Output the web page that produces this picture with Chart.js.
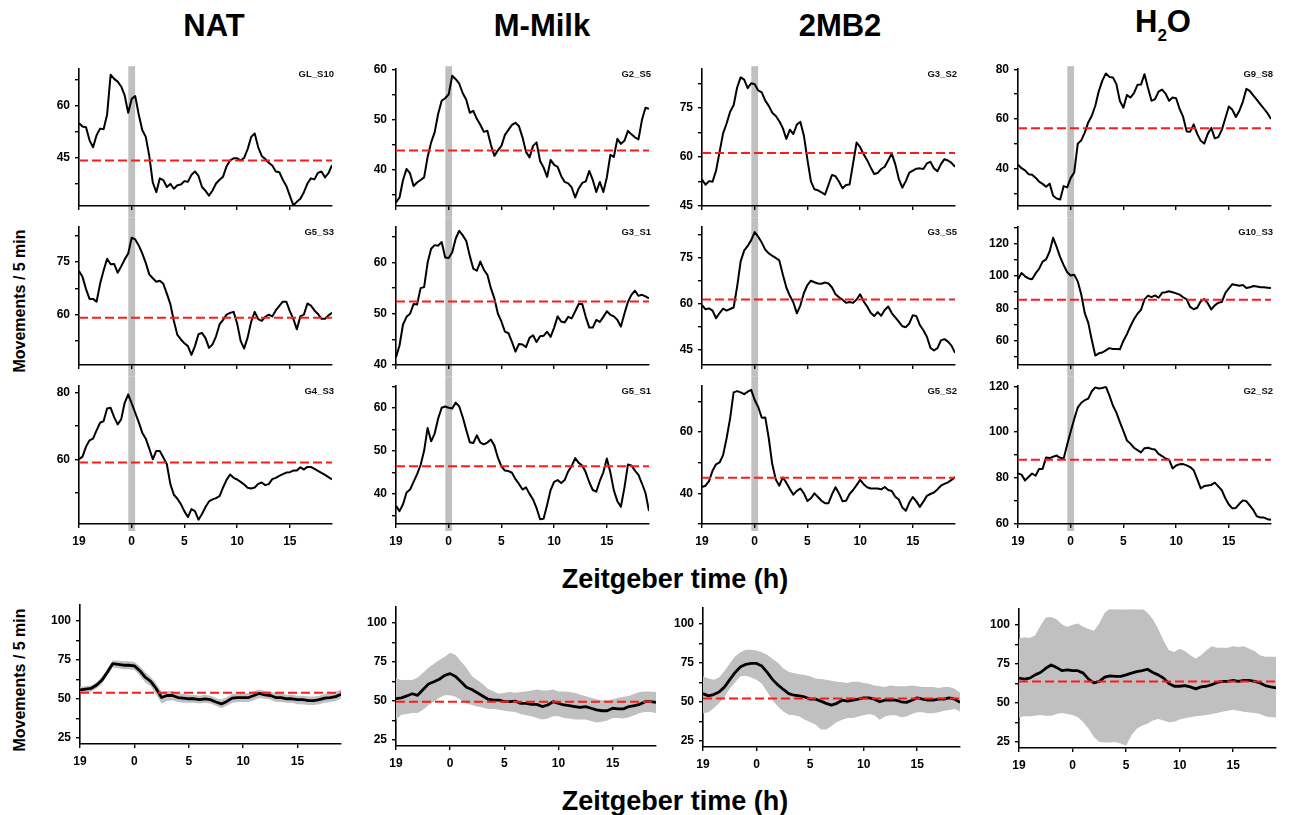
<!DOCTYPE html>
<html>
<head>
<meta charset="utf-8">
<script src="https://cdn.jsdelivr.net/npm/chart.js@4.4.1/dist/chart.umd.min.js"></script>
<style>
  body { margin: 0; background: #fff; width: 1305px; height: 815px; position: relative; overflow: hidden;
         font-family: "Liberation Sans", Arial, sans-serif; }
  canvas { position: absolute; }
  .txt { position: absolute; font-weight: bold; color: #000; white-space: nowrap; line-height: 1;
         transform: translate(-50%, -50%); }
  .title { font-size: 31px; }
  .xlab { font-size: 27px; }
  .ylab { font-size: 16px; transform: translate(-50%, -50%) rotate(-90deg); }
</style>
</head>
<body>
<div class="txt title" style="left:214px; top:25px">NAT</div>
<div class="txt title" style="left:542px; top:25px">M-Milk</div>
<div class="txt title" style="left:840px; top:25px">2MB2</div>
<div class="txt title" style="left:1163px; top:25px">H<span style="font-size:17px; vertical-align:-9px">2</span>O</div>
<div class="txt xlab" style="left:675px; top:579px">Zeitgeber time (h)</div>
<div class="txt xlab" style="left:675px; top:801px">Zeitgeber time (h)</div>
<div class="txt ylab" style="left:20px; top:301px">Movements / 5 min</div>
<div class="txt ylab" style="left:20px; top:680px">Movements / 5 min</div>

<script>
// sample times (h, relative to lights-off at ZT 0); 19 on the left is the previous day
const ztLine = Array.from({ length: 73 }, (_, i) => -5 + i / 3);
const ztMean = Array.from({ length: 49 }, (_, i) => -5 + i / 2);
const xTickValues = [-5, 0, 5, 10, 15];
const xTickLabels = ['19', '0', '5', '10', '15'];

// individual animals, movements / 5 min
const natGL_S10 = [55,54,53.8,50,48,51.5,53.4,53.2,57.5,69,67.8,67,65.6,63,58,62,62.8,57.5,53,51,45.5,37.8,35,39,38.5,36.5,37.4,36,37,37.2,38.2,38,40,41,39.7,36.5,35.4,34,35.5,37.5,38.6,39.5,42.5,44.2,44.8,44.8,44.2,44.9,47.5,51,52,48,45.5,44.6,43.5,42.7,41,40.8,38.6,36.8,34,31.2,32.2,33.1,35,37.5,39,38.7,40.6,41,39.3,40.5,42.8];
const natG5_S3 = [72.5,70.8,67.3,64.5,64.5,63.7,68.8,72.6,76,74.4,74.5,72,73.8,75.8,77.5,82,81.5,79.8,77.5,74.8,71.5,70.4,69.4,69.7,68.8,66,63,58.2,54.2,52.9,51.8,51,48.5,51,54.4,54.8,53.3,50.5,51.5,53.8,57.2,58.5,60,60.5,60.8,57.5,52.5,50.3,53.5,58,60.8,58.7,58.2,59.4,60,59.5,61.2,62.5,63.7,63.7,61,58.8,55.8,59.5,60,63.2,62.6,61.2,60.2,58.8,58.8,59.8,60.5];
const natG4_S3 = [60,60.8,63.8,65.7,66.2,68.7,71,71.5,75.3,75.5,72.7,70.5,72,77,79.5,76.8,74,71.2,68,66.2,63.2,60,62.5,62.5,60.5,58.5,52.5,49.3,48.1,46.5,44.3,42.6,45,44.4,41.8,43.5,45.6,47.3,47.9,48.3,48.9,51.5,53.8,55.4,54.4,53.9,53.2,52.4,51.4,51.2,51.5,52.6,53,52.2,52.5,54,54.4,55,55.5,56,56.1,56.6,56.6,57.6,56.9,57.7,57.7,57.1,56.5,55.9,55.3,54.6,53.9];
const milkG2_S5 = [33.5,34.5,38,40.2,39.3,36.8,37.5,38,38.5,42.6,45.5,47.5,51.2,53.8,54.3,55.1,58.8,58.1,57.2,55.3,54,51.4,51.8,50.2,49,47.6,47.8,45,42.8,43.9,44.8,47,48,49,49.4,48.7,46.5,43.6,42.5,44.8,45.5,41.8,40.5,38.6,42,41,40.6,38.8,37.6,37.3,36.5,34.5,36.3,37.4,37.7,39.8,38,35.6,37.6,35.6,38.5,43,42.6,46.2,45.2,45.8,47.8,47.1,46.5,46.1,50,52.4,52.2];
const milkG3_S1 = [41.5,43.8,47.9,49.4,50,51.9,51.8,55,55.2,60,62.7,63.4,63.3,64,61,60.9,62,64.7,66.2,65.3,64.2,61.3,58.8,58.4,60.2,58.6,57.6,55,53,50,48.5,46.5,46.2,44.5,42.6,44.1,44,43.5,45.3,45.8,44.5,45.6,45.7,46.5,45.5,47.3,49.5,48.5,48.3,49.4,49.1,50.5,51.9,51.9,49.4,47.3,47.3,48.8,48.4,49.4,50.5,49.8,49.5,48.8,47.5,50,52.3,53.7,54.5,53.5,53.7,53.4,53];
const milkG5_S1 = [37.2,36,37.6,40.3,41,42.8,44.6,46.7,50,55.3,52.2,54,57.5,60,60.3,60,59.8,61.2,60.3,57.8,54.8,52,51.8,53.6,51.9,51.5,51.9,52.6,51.2,48.4,46.4,45.4,45.3,44.9,43.4,42.3,41,41.5,40,38.7,36.7,34.1,34.2,37.4,40.9,42.8,43.2,42.5,43.2,45.2,46.5,48.3,47.2,46.6,45,42.7,40.9,40.5,43,45,48.2,45,40.8,38.3,37,41.4,46.8,46.6,45.4,44.4,42.4,40.2,36];
const mbG3_S2 = [53.1,51.5,52.6,52.4,55.8,61.5,67.2,70.2,73.8,75.8,81.2,84.3,83.6,81,82.5,82.2,80.3,79.7,77.2,75.6,73.5,72.5,70.9,68.8,65.5,68.3,67,69.9,70.7,66.5,59.2,52.5,50.1,49.8,49.2,48.5,51.5,54.5,54.1,52.4,50.4,51.4,51.6,58,64.4,63,60.8,59,56.8,54.8,55.1,56.3,57,59,61,57.8,53.3,50.6,52.6,55.2,55.8,56.4,56.5,56.3,58,58.5,56.5,55.6,57.8,59.3,58.9,58.2,57];
const mbG3_S5 = [59.5,58.1,58.4,57.7,55.2,56.9,58.3,57.7,58.2,58.7,65.5,73.7,77.2,78.7,80.6,83.2,81.7,79.8,77.5,76.3,75.5,74.8,74,69.4,65.2,62.5,60.3,56.8,59.4,63.4,66,67.4,66.9,66.5,66.4,66.8,66.5,65.2,63,62,61.2,60.2,60.5,60.2,61.3,63,60.7,59,57,55.9,57.2,56,57.9,59,56.9,55.5,54.1,52.6,52.3,53.5,56.2,55.9,53,51.3,49.2,45.6,44.7,45.5,48,48.4,47.6,46.3,44];
const mbG5_S2 = [42.1,42.5,44,47.4,49.5,50.1,52.5,58,64.5,73,73.4,73,72.4,73.2,73.8,70.5,68.2,64.7,64.8,58,49.5,44.5,42.5,45.2,43.5,41.4,39.6,40.8,41.6,40,37.5,38.4,40,38.8,37.6,36.8,36.8,39.7,42,40,37.4,37.6,39.8,41.1,42.7,44.4,43,42,41.6,41.6,41.6,41.3,42.1,41.1,40.8,38.9,38,35.4,34.3,37,38.8,37.4,35.6,37.3,39.2,39.8,40.3,41.3,42.5,43.1,43.6,44.4,45.3];
const h2oG9_S8 = [41.6,40.2,39.3,37.8,37.6,36.4,34.8,33.9,32.7,34,29.1,28,27.6,33,32.5,36.3,38.5,50,51.4,54.5,58.6,61.3,65.3,71.2,75.4,78.3,76.9,76.7,74,67.2,64.5,69.6,68.6,70.4,73.7,73.8,78,72.4,67.3,68,71,71.8,70.2,67.3,68.6,68.3,64,60.8,55,54.9,57.8,54,51.2,50.1,54,56.4,52.2,52.7,55.6,60.3,65,63.7,60.8,63.3,67,72.1,71.2,69.4,67.7,65.9,64.1,62.3,60];
const h2oG10_S3 = [97.9,101.7,99.7,98.4,97.9,101.5,104.3,108.8,110.2,115,123.5,117.8,111.5,106.6,102.2,100.2,100.7,96.6,88.5,77,71,60.4,50.8,52.2,52.7,54,55.4,54.9,54.8,54.7,60,64,68.9,73.2,76.6,79,85.5,87.8,86.9,87.9,86.5,89.5,89.9,90.5,89.9,89.2,88.4,86.8,85.5,80.8,79.4,80.3,84.3,85.7,83.1,79.3,81.8,83.4,83.9,89.4,92.3,94.8,94.4,93.9,94.4,92.5,92.9,93.7,93.4,93,92.9,92.7,92.5];
const h2oG2_S2 = [82,81.5,79,80.5,82,81,84,84,89,88.7,89.3,89.8,88.8,88.5,94.6,100.3,105.7,110.7,112.8,113.9,114.6,117.8,119.5,119,119.2,119.8,116,111.6,108.5,104.4,100.4,96.4,95,93.2,92.2,91.2,93,93.2,92.7,92.4,90.5,89.6,88.5,88,84.2,85.5,86,86.1,85.5,84.8,83.4,79.5,75.5,76.5,76.8,77,78,76.4,74.7,71.2,68.5,66.8,67,68.8,70.3,69.9,68,66,63.3,62.8,62.8,62.1,61.8];

// group means with spread band
const natMean  = [55.6,56.2,56.6,58.7,61.8,66.9,72.5,72.1,71.5,71.5,71.1,68,63.8,61.2,56.6,50.8,52.1,52.1,50.8,50.4,50,50,49.4,50,49.4,47.9,46.7,48.3,50.4,50.8,50.8,50.8,52.1,53.5,52.5,52.1,50.8,50.8,50,50,49.4,49.4,48.8,48.8,49.4,50.4,50.8,51.4,52.9];
const natUpper = [57.5,58,58.5,60.5,64,69,74.5,74.5,74,74,73.5,71,67,64,60,54.5,55,55,53.5,53,52.5,52.5,52,52.5,52,50.5,49.5,51,53,53.5,53.5,53.5,55,56,55,54.5,53.5,53.5,52.5,52.5,52,52,51.5,51.5,52,53,53.5,54.5,56];
const natLower = [53.5,54,54.5,56.5,59.5,64.5,70,69.5,69,69,68.5,65,60.5,58,52.5,47,48.5,49,48,47.5,47.5,47.5,47,47.5,47,45.5,44,45.5,47.5,48,48,48,49,50.5,50,49.5,48,48,47.5,47.5,46.5,46.5,46,46,46.5,47.5,48,48.5,50];
const milkMean  = [51.4,51.9,53.1,54.5,53.5,57.2,60.7,62.2,63.8,66.3,67.4,65.5,62.2,58.7,57.2,55.2,53.1,51,50.4,50.4,49.4,49.4,49.8,48.3,48.3,47.7,47.7,46.3,47.3,49.4,48.3,47.3,46.9,46.3,45.7,46.3,45.2,44.2,43.6,43.6,45.2,44.8,44.8,46.3,46.9,47.7,49.4,49.4,49];
const milkUpper = [64.3,63.4,63.4,63.4,64.9,68,71.1,73.8,76.2,78.3,80.8,79.3,75.2,71.1,65.9,63.4,60.7,57.6,56,54.5,55.2,55.6,55.2,55.6,56,56.6,57.2,56.6,56.6,57.2,56,56,55.6,55.2,53.9,53.1,51.9,51,50.4,50.4,51,51.9,52.5,53.1,54.5,55.6,56,56,55.6];
const milkLower = [38,41.1,41.5,42.1,42.1,44.2,47.3,49.4,51.9,53.5,53.5,52.5,50.4,48.3,47.3,46.3,45.7,44.8,44.8,44.2,43.6,43.2,42.8,41.5,40.7,40.1,39,38,38.6,40.1,40.1,39,38.6,38,38,38,37,36,36.6,37.4,39,39,38.6,39.5,40.7,42.1,42.8,42.8,42.1];
const mbMean  = [55.2,53.8,54.6,56.3,59.4,64.2,68.8,72.5,74,74.6,74.6,72.9,68.8,64.2,60.8,57.9,55.2,54.2,53.8,53.1,51.7,51.7,50.4,49,47.9,49,51,50.4,51,51.7,52.5,52.5,51.7,50,51,51,51,50,49.6,51,52.5,51.7,51,51,51.7,51.7,52.5,51.7,49.6];
const mbUpper = [66.3,65,64.2,65.6,69.8,74.6,79.2,81.7,83.3,83.3,82.9,81.7,80.2,77.5,75,71.3,69.2,68.3,67.7,67.1,66.3,65,64.6,64.2,63.5,62.9,62.5,62.1,62.9,62.9,62.1,61.5,60.4,60,59.4,60.4,60,60,60,60.4,60,59.4,59.4,59.4,58.8,59.4,59.4,58.3,55.8];
const mbLower = [42.7,43.3,45.8,49,53.1,58.3,62.5,66.3,66.7,65.6,64.2,61.5,56.3,51,46.9,43.8,41.7,41.3,40.6,38.5,37.1,35.4,32.3,32.3,34.4,37.1,38.5,39.6,39.6,40.6,41.3,42.1,41.3,38.5,40.6,41.3,41.3,40,40.6,42.1,43.3,43.3,42.7,42.7,43.3,44.2,44.8,45.4,43.8];
const h2oMean  = [65.8,65.2,65.8,67.9,69.4,72.1,74.2,72.7,70.6,71.1,70.6,70.6,69,65.2,62.7,63.7,66.5,67.3,66.9,66.9,67.9,69,70,70.6,71.5,69.4,67.9,65.8,62.3,60.6,60.6,61,60.2,58.9,60.2,60.6,61.6,63.1,63.7,63.7,64.4,63.7,64.4,64.4,63.7,62.7,61,60.2,59.5];
const h2oUpper = [91,92,91.6,93.1,99.4,104.6,105,103.6,100.4,98.7,100,100.8,98.7,97.3,96.2,100.8,107.8,110.5,110.5,109.9,110.5,110.9,110.5,110.5,107.8,103.6,97.3,89.9,83.6,82.6,84.7,83.2,80.5,78.4,80.5,83.6,86.2,85.3,85.3,85.3,86.2,85.7,86.2,84.7,83.2,80.5,79.5,79.5,79.5];
const h2oLower = [40.7,41.3,41.3,41.7,42.1,41.7,41.7,42.8,43.4,42.8,42.1,40.7,37.5,33.3,28.1,24.9,24.5,24.5,24.9,23.9,22.4,29.1,33.3,35.4,36.5,38.6,39.6,38.6,37.5,37.9,39.2,40,40.7,41.3,41.7,42.1,42.8,43.4,44.2,44.9,45.5,44.9,44.2,43.8,43.4,42.8,41.3,40.7,40.7];

// overall mean level (red dashed) per panel
const natLevels  = [44.2, 59.1, 59, 53.9];
const milkLevels = [43.9, 52.4, 46.4, 49.4];
const mbLevels   = [61.2, 61.3, 45.1, 52.1];
const h2oLevels  = [56.3, 85.3, 88, 63.7];

const animalIds = [
  ['GL_S10', 'G5_S3', 'G4_S3'],
  ['G2_S5', 'G3_S1', 'G5_S1'],
  ['G3_S2', 'G3_S5', 'G5_S2'],
  ['G9_S8', 'G10_S3', 'G2_S2']
];
const traces = [
  [natGL_S10, natG5_S3, natG4_S3],
  [milkG2_S5, milkG3_S1, milkG5_S1],
  [mbG3_S2, mbG3_S5, mbG5_S2],
  [h2oG9_S8, h2oG10_S3, h2oG2_S2]
];
const means = [
  { mean: natMean, upper: natUpper, lower: natLower },
  { mean: milkMean, upper: milkUpper, lower: milkLower },
  { mean: mbMean, upper: mbUpper, lower: mbLower },
  { mean: h2oMean, upper: h2oUpper, lower: h2oLower }
];
const levels = [natLevels, milkLevels, mbLevels, h2oLevels];

// y axes: range, tick marks, labelled ticks
const yAxes = [
  [ { min: 31, max: 70.6, ticks: [37.5, 45, 52.5, 60, 67.5], labels: [45, 60] },
    { min: 45.6, max: 85, ticks: [52.5, 60, 67.5, 75, 82.5], labels: [60, 75] },
    { min: 40.5, max: 82, ticks: [50, 60, 70, 80], labels: [60, 80] } ],
  [ { min: 32.8, max: 60.1, ticks: [35, 40, 45, 50, 55, 60], labels: [40, 50, 60] },
    { min: 40, max: 66.9, ticks: [40, 45, 50, 55, 60, 65], labels: [40, 50, 60] },
    { min: 33, max: 65, ticks: [35, 40, 45, 50, 55, 60, 65], labels: [40, 50, 60] } ],
  [ { min: 45, max: 86.8, ticks: [45, 52.5, 60, 67.5, 75, 82.5], labels: [45, 60, 75] },
    { min: 40, max: 84.8, ticks: [45, 52.5, 60, 67.5, 75, 82.5], labels: [45, 60, 75] },
    { min: 30, max: 75, ticks: [30, 40, 50, 60, 70], labels: [40, 60] } ],
  [ { min: 25, max: 80, ticks: [30, 40, 50, 60, 70, 80], labels: [40, 60, 80] },
    { min: 45, max: 130, ticks: [50, 60, 70, 80, 90, 100, 110, 120, 130], labels: [60, 80, 100, 120] },
    { min: 60, max: 120, ticks: [60, 70, 80, 90, 100, 110, 120], labels: [60, 80, 100, 120] } ]
];
const meanAxis = { min: 21, max: 110, ticks: [25, 37.5, 50, 62.5, 75, 87.5, 100], labels: [25, 50, 75, 100] };

// page geometry (plot areas)
const rowBox = [ { T: 65, B: 205.7 }, { T: 223.3, B: 365 }, { T: 381.7, B: 523.5 } ];
const colBox = [ { L: 79.3, R: 332.5 }, { L: 395.8, R: 649 }, { L: 702.3, R: 955.5 }, { L: 1018, R: 1271.2 } ];
const meanBox = [ { L: 80, R: 340.6, T: 600.5 }, { L: 396, R: 656, T: 602.5 },
                  { L: 702.6, R: 960, T: 604 }, { L: 1018.8, R: 1275.8, T: 604.5 } ];
const MEAN_H = 143;
const YW = 40, XH = 22, PT = 8, PR = 10;

const FONT = '"Liberation Sans", Arial, sans-serif';
const RED = '#ff1a1a';
const GRAY = '#c0c0c0';

const panelDeco = {
  id: 'panelDeco',
  beforeDraw(chart, args, opts) {
    if (!opts.bar) return;
    const { ctx, chartArea: a, scales: { x } } = chart;
    const cx = x.getPixelForValue(0);
    const top = opts.bar === 'first' ? a.top - 3 : a.top - 10;
    const bottom = opts.bar === 'last' ? a.bottom + 7 : a.bottom + 11;
    ctx.save();
    ctx.fillStyle = GRAY;
    ctx.fillRect(cx - 3.4, top, 6.8, bottom - top);
    ctx.restore();
  },
  afterDraw(chart, args, opts) {
    if (!opts.label) return;
    const { ctx, chartArea: a } = chart;
    ctx.save();
    ctx.font = 'bold 9.5px ' + FONT;
    ctx.fillStyle = '#111';
    ctx.textAlign = 'right';
    ctx.textBaseline = 'middle';
    ctx.fillText(opts.label, a.right + 2, a.top + 5);
    ctx.restore();
  }
};

function pts(xs, ys) {
  return ys.map((v, i) => ({ x: xs[i], y: v }));
}

function makePanel(box, axis, datasets, showX, deco) {
  const cv = document.createElement('canvas');
  const w = Math.round(box.R - box.L) + YW + PR;
  const h = Math.round(box.B - box.T) + PT + XH;
  cv.width = w; cv.height = h;
  cv.style.left = Math.round(box.L - YW) + 'px';
  cv.style.top = Math.round(box.T - PT) + 'px';
  cv.style.width = w + 'px'; cv.style.height = h + 'px';
  document.body.appendChild(cv);

  const tickFont = { family: FONT, size: 12, weight: 'bold' };
  new Chart(cv, {
    type: 'line',
    data: { datasets },
    options: {
      responsive: false,
      animation: false,
      events: [],
      layout: { padding: { top: PT, right: PR, left: 0, bottom: 0 } },
      elements: { point: { radius: 0 }, line: { tension: 0 } },
      plugins: { legend: { display: false }, tooltip: { enabled: false }, panelDeco: deco },
      scales: {
        x: {
          type: 'linear', min: -5, max: 19,
          afterFit: s => { s.height = XH; },
          afterBuildTicks: s => { s.ticks = xTickValues.map(v => ({ value: v })); },
          ticks: {
            display: showX, autoSkip: false, maxRotation: 0, padding: 6, color: '#000', font: tickFont,
            callback: v => xTickLabels[xTickValues.indexOf(v)]
          },
          grid: { drawOnChartArea: false, tickLength: 4, color: '#000', lineWidth: 1.4 },
          border: { color: '#000', width: 1.6 }
        },
        y: {
          min: axis.min, max: axis.max,
          afterFit: s => { s.width = YW; },
          afterBuildTicks: s => { s.ticks = axis.ticks.map(v => ({ value: v })); },
          ticks: {
            autoSkip: false, padding: 5, color: '#000', font: tickFont,
            callback: v => axis.labels.includes(v) ? String(v) : ''
          },
          grid: { drawOnChartArea: false, tickLength: 4, color: '#000', lineWidth: 1.4 },
          border: { color: '#000', width: 1.6 }
        }
      }
    },
    plugins: [panelDeco]
  });
}

function levelLine(v, width) {
  return {
    data: [{ x: -5, y: v }, { x: 19, y: v }],
    borderColor: RED, borderWidth: width, borderDash: [9, 4], fill: false, order: 0
  };
}

for (let c = 0; c < 4; c++) {
  for (let r = 0; r < 3; r++) {
    const box = { L: colBox[c].L, R: colBox[c].R, T: rowBox[r].T, B: rowBox[r].B };
    const ds = [
      levelLine(levels[c][r], 2),
      { data: pts(ztLine, traces[c][r]), borderColor: '#000', borderWidth: 2, fill: false, order: 1,
        borderJoinStyle: 'round' }
    ];
    makePanel(box, yAxes[c][r], ds, r === 2,
      { bar: r === 0 ? 'first' : (r === 2 ? 'last' : 'mid'), label: animalIds[c][r] });
  }
  const mb = meanBox[c];
  const m = means[c];
  const ds = [
    levelLine(levels[c][3], 2),
    { data: pts(ztMean, m.mean), borderColor: '#000', borderWidth: 2.8, fill: false, order: 1,
      borderJoinStyle: 'round' },
    { data: pts(ztMean, m.upper), borderWidth: 0, borderColor: GRAY, backgroundColor: GRAY, fill: '+1', order: 2 },
    { data: pts(ztMean, m.lower), borderWidth: 0, borderColor: GRAY, backgroundColor: GRAY, fill: false, order: 3 }
  ];
  makePanel({ L: mb.L, R: mb.R, T: mb.T, B: mb.T + MEAN_H }, meanAxis, ds, true, { bar: null, label: null });
}
</script>
</body>
</html>
